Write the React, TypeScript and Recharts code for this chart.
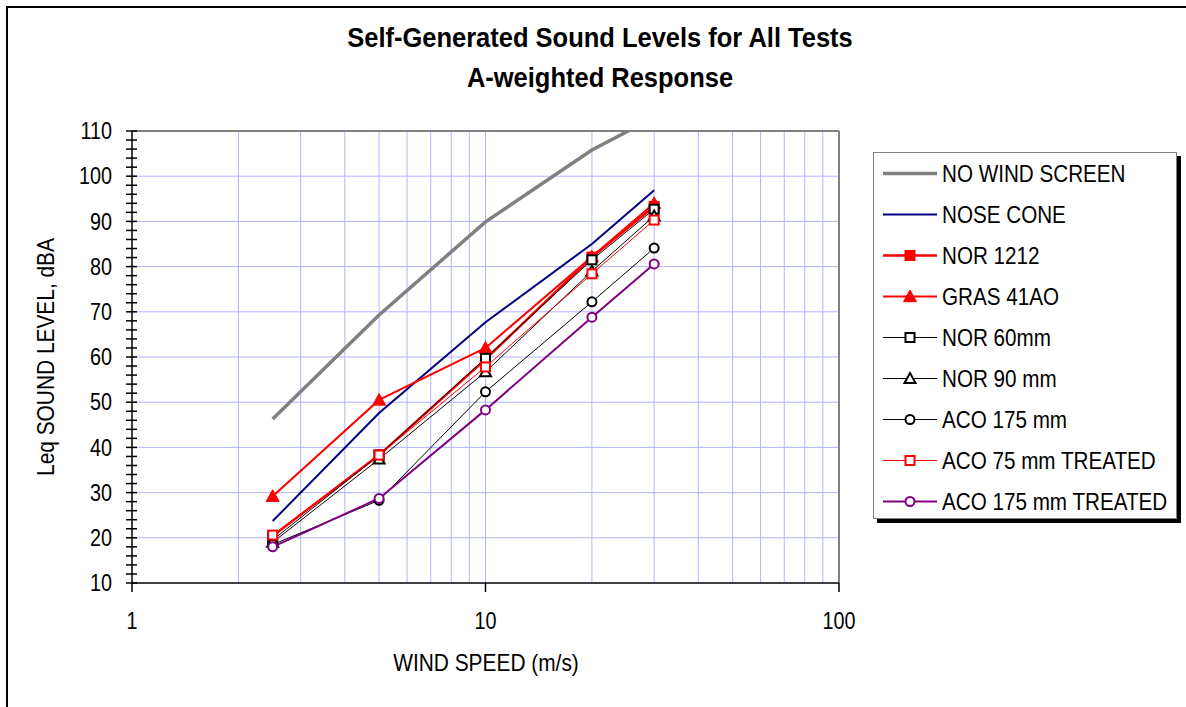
import { LineChart, Line, XAxis, YAxis, CartesianGrid } from "recharts"

// wind speed (m/s) at which each test was measured
const speeds = [2.5, 5, 10, 20, 30]

// Leq, dBA
const noWindScreen = [46.3, 69.3, 89.9, 105.8, 113]
const noseCone = [23.7, 47.6, 67.7, 85, 96.9]
const nor1212 = [20.4, 38.3, 59.5, 82.1, 93.3]
const gras41ao = [29.2, 50.5, 62, 82.2, 94]
const nor60 = [19.5, 38.3, 59.7, 81.5, 92.7]
const nor90 = [19, 37.4, 56.7, 79, 91.2]
const aco175 = [18.5, 28.3, 52.3, 72.2, 84.1]
const aco75Treated = [20.6, 38.3, 57.8, 78.4, 90.3]
const aco175Treated = [18, 28.7, 48.3, 68.8, 80.6]

const xTicks = [1, 10, 100]
const xGrid = [2, 3, 4, 5, 6, 7, 8, 9, 10, 20, 30, 40, 50, 60, 70, 80, 90]
const yTicks = [10, 12, 14, 16, 18, 20, 22, 24, 26, 28, 30, 32, 34, 36, 38, 40, 42, 44, 46, 48, 50, 52, 54, 56, 58, 60, 62, 64, 66, 68, 70, 72, 74, 76, 78, 80, 82, 84, 86, 88, 90, 92, 94, 96, 98, 100, 102, 104, 106, 108, 110]
const yGrid = [20, 30, 40, 50, 60, 70, 80, 90, 100]

// no narrow face installed, so the regular one is squeezed horizontally
const FONT = "'Liberation Sans', Arial, sans-serif"
const NARROW = 0.86

type Shape = "none" | "square" | "triangle" | "circle"

const series = [
  { key: "noWind", name: "NO WIND SCREEN", values: noWindScreen, color: "#808080", width: 3.5, shape: "none" as Shape, fill: "" },
  { key: "noseCone", name: "NOSE CONE", values: noseCone, color: "#000080", width: 2, shape: "none" as Shape, fill: "" },
  { key: "nor1212", name: "NOR 1212", values: nor1212, color: "#ff0000", width: 2.5, shape: "square" as Shape, fill: "#ff0000" },
  { key: "gras", name: "GRAS 41AO", values: gras41ao, color: "#ff0000", width: 2, shape: "triangle" as Shape, fill: "#ff0000" },
  { key: "nor60", name: "NOR 60mm", values: nor60, color: "#000000", width: 1, shape: "square" as Shape, fill: "#ffffff" },
  { key: "nor90", name: "NOR 90 mm", values: nor90, color: "#000000", width: 1, shape: "triangle" as Shape, fill: "#ffffff" },
  { key: "aco175", name: "ACO 175 mm", values: aco175, color: "#000000", width: 1, shape: "circle" as Shape, fill: "#ffffff" },
  { key: "aco75t", name: "ACO 75 mm TREATED", values: aco75Treated, color: "#ff0000", width: 1, shape: "square" as Shape, fill: "#ffffff" },
  { key: "aco175t", name: "ACO 175 mm TREATED", values: aco175Treated, color: "#800080", width: 2, shape: "circle" as Shape, fill: "#ffffff" },
]

const data = speeds.map((s, i) => {
  const row: Record<string, number> = { speed: s }
  series.forEach((sr) => (row[sr.key] = sr.values[i]))
  return row
})

function Marker({ shape, cx, cy, color, fill }: { shape: Shape; cx: number; cy: number; color: string; fill: string }) {
  if (shape === "square") {
    return <rect x={cx - 4.5} y={cy - 4.5} width={9} height={9} fill={fill} stroke={color} strokeWidth={2} />
  }
  if (shape === "triangle") {
    const big = fill !== "#ffffff"
    const h = big ? 6.5 : 5.5
    return (
      <polygon
        points={`${cx},${cy - h} ${cx - h},${cy + h * 0.8} ${cx + h},${cy + h * 0.8}`}
        fill={fill}
        stroke={color}
        strokeWidth={big ? 1 : 2}
      />
    )
  }
  if (shape === "circle") {
    return <circle cx={cx} cy={cy} r={4.5} fill={fill} stroke={color} strokeWidth={2} />
  }
  return null
}

function YTick(props: any) {
  const { x, y, payload } = props
  const major = payload.value % 10 === 0
  return (
    <g>
      <line x1={x - 6} x2={x + 5} y1={y} y2={y} stroke="#000" strokeWidth={1.5} />
      {major && (
        <text
          transform={`translate(${x - 20},${y}) scale(${NARROW},1)`}
          dy="0.36em"
          textAnchor="end"
          fontSize={23}
          fontFamily={FONT}
          fill="#000"
        >
          {payload.value}
        </text>
      )}
    </g>
  )
}

function XTick(props: any) {
  const { x, y, payload } = props
  return (
    <g>
      <line x1={x} x2={x} y1={y} y2={y + 9} stroke="#000" strokeWidth={1.5} />
      <text
        transform={`translate(${x},${y + 46}) scale(${NARROW},1)`}
        textAnchor="middle"
        fontSize={23}
        fontFamily={FONT}
        fill="#000"
      >
        {payload.value}
      </text>
    </g>
  )
}

function LegendBox() {
  return (
    <div
      style={{
        position: "absolute",
        left: 873,
        top: 152,
        width: 302,
        height: 365,
        border: "1px solid #808080",
        boxShadow: "4px 4px 0 #000",
        background: "#fff",
        fontFamily: FONT,
        fontSize: 24,
      }}
    >
      {series.map((s) => (
        <div key={s.key} style={{ height: 41, display: "flex", alignItems: "center" }}>
          <svg width={68} height={41} style={{ flex: "none" }}>
            <line x1={9} x2={63} y1={20.5} y2={20.5} stroke={s.color} strokeWidth={s.width} />
            <Marker shape={s.shape} cx={36} cy={20.5} color={s.color} fill={s.fill} />
          </svg>
          <span style={{ whiteSpace: "nowrap", display: "inline-block", transform: `scaleX(${NARROW})`, transformOrigin: "left center" }}>
            {s.name}
          </span>
        </div>
      ))}
    </div>
  )
}

export default function App() {
  return (
    <div style={{ position: "absolute", left: 0, top: 0, width: 1186, height: 707, overflow: "hidden", background: "#fff" }}>
      <div
        style={{
          position: "absolute",
          left: 6,
          top: 6,
          width: 1200,
          height: 720,
          borderLeft: "2px solid #000",
          borderTop: "2px solid #000",
        }}
      />
      <div
        style={{
          position: "absolute",
          left: 600,
          top: 18,
          transform: "translateX(-50%) scaleX(0.91)",
          textAlign: "center",
          fontFamily: FONT,
          fontWeight: "bold",
          fontSize: 28,
          lineHeight: "40px",
          whiteSpace: "nowrap",
        }}
      >
        <div>Self-Generated Sound Levels for All Tests</div>
        <div>A-weighted Response</div>
      </div>
      <div
        style={{
          position: "absolute",
          left: 46,
          top: 357,
          transform: "translate(-50%, -50%) rotate(-90deg) scaleX(0.87)",
          fontFamily: FONT,
          fontSize: 24,
          whiteSpace: "nowrap",
        }}
      >
        Leq SOUND LEVEL, dBA
      </div>
      <div
        style={{
          position: "absolute",
          left: 486,
          top: 663,
          transform: "translate(-50%, -50%) scaleX(0.87)",
          fontFamily: FONT,
          fontSize: 24,
          whiteSpace: "nowrap",
        }}
      >
        WIND SPEED (m/s)
      </div>
      <div style={{ position: "absolute", left: 0, top: 0 }}>
        <LineChart width={1186} height={707} data={data} margin={{ top: 131, right: 347, bottom: 84, left: 72 }}>
          <CartesianGrid stroke="#b3b3ff" verticalValues={xGrid} horizontalValues={yGrid} />
          <CartesianGrid stroke="#808080" strokeWidth={2} verticalValues={[100]} horizontalValues={[110]} />
          <XAxis
            dataKey="speed"
            type="number"
            scale="log"
            domain={[1, 100]}
            ticks={xTicks}
            allowDataOverflow
            height={40}
            tickSize={0}
            tickMargin={0}
            interval={0}
            stroke="#000"
            strokeWidth={1.5}
            tick={<XTick />}
          />
          <YAxis
            type="number"
            domain={[10, 110]}
            ticks={yTicks}
            allowDataOverflow
            width={60}
            tickSize={0}
            tickMargin={0}
            interval={0}
            stroke="#000"
            strokeWidth={1.5}
            tick={<YTick />}
          />
          {series.map((s) => (
            <Line
              key={s.key}
              dataKey={s.key}
              name={s.name}
              type="linear"
              stroke={s.color}
              strokeWidth={s.width}
              isAnimationActive={false}
              activeDot={false}
              dot={
                s.shape === "none"
                  ? false
                  : (p: any) => (
                      <Marker key={`${s.key}-${p.index}`} shape={s.shape} cx={p.cx} cy={p.cy} color={s.color} fill={s.fill} />
                    )
              }
            />
          ))}
        </LineChart>
      </div>
      <LegendBox />
    </div>
  )
}
